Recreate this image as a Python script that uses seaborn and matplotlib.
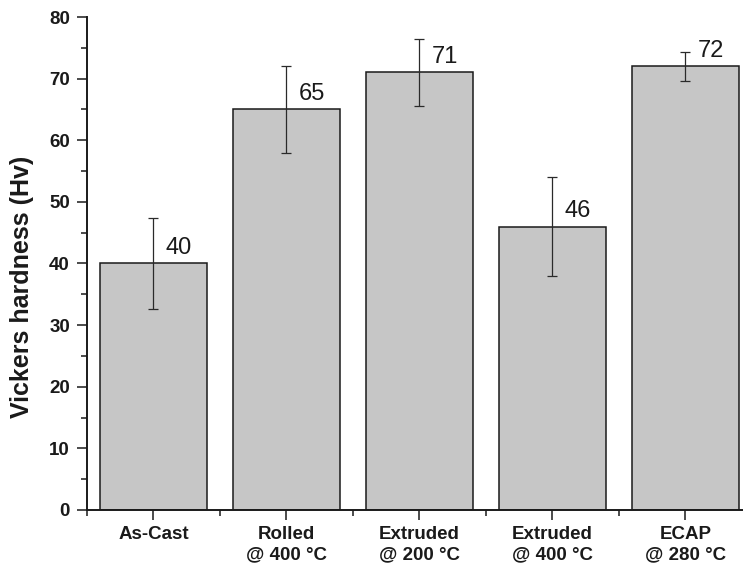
import matplotlib
matplotlib.use("Agg")
import matplotlib.pyplot as plt
from matplotlib.ticker import MultipleLocator, FixedLocator
import numpy as np
import pandas as pd
import seaborn as sns

# Processing routes and their measured Vickers hardness
conditions = ["As-Cast", "Rolled\n@ 400 °C", "Extruded\n@ 200 °C",
              "Extruded\n@ 400 °C", "ECAP\n@ 280 °C"]
hardness = [40, 65, 71, 46, 72]
hardness_err = [7.4, 7.0, 5.5, 8.0, 2.4]

df = pd.DataFrame({"condition": conditions, "hardness": hardness})

sns.set_theme(style="ticks")
plt.rcParams["font.family"] = ["Liberation Sans", "DejaVu Sans"]

ink = "#1a1a1a"

fig = plt.figure(figsize=(7.43, 5.73), dpi=100)
ax = fig.add_axes([0.117, 0.110, 0.895, 0.8603])

sns.barplot(data=df, x="condition", y="hardness", color="#c6c6c6",
            saturation=1, width=0.8, edgecolor=ink, linewidth=1.1,
            errorbar=None, ax=ax)

xpos = np.arange(len(conditions))
ax.errorbar(xpos, hardness, yerr=hardness_err, fmt="none", ecolor="#2a2a2a",
            elinewidth=0.9, capsize=3.5, capthick=0.9, zorder=5)

for x, v in zip(xpos, hardness):
    ax.annotate(f"{v}", (x, v), xytext=(9, 6.5), textcoords="offset points",
                ha="left", va="baseline", fontsize=17, color=ink)

ax.set_xlim(-0.5, len(conditions) - 0.5)
ax.set_ylim(0, 80)
ax.yaxis.set_major_locator(MultipleLocator(10))
ax.yaxis.set_minor_locator(MultipleLocator(5))
ax.xaxis.set_minor_locator(FixedLocator(np.arange(-0.5, len(conditions), 1.0)))

sns.despine(ax=ax)
for side in ("left", "bottom"):
    ax.spines[side].set_linewidth(1.4)
    ax.spines[side].set_color(ink)

ax.tick_params(axis="both", which="major", length=7.2, width=1.1, color=ink,
               labelcolor=ink, labelsize=13.5, direction="out")
ax.tick_params(axis="y", which="major", pad=5)
ax.tick_params(axis="x", which="major", pad=4.5)
ax.tick_params(axis="both", which="minor", length=4.6, width=1.1, color=ink,
               direction="out")
for lbl in ax.get_xticklabels() + ax.get_yticklabels():
    lbl.set_fontweight("bold")
for lbl in ax.get_xticklabels():
    lbl.set_linespacing(1.25)

ax.set_xlabel("")
ax.set_ylabel("Vickers hardness (Hv)", fontsize=18, fontweight="bold", color=ink)
ax.yaxis.set_label_coords(-0.080, 0.452)

fig.savefig("out.png", dpi=100)
